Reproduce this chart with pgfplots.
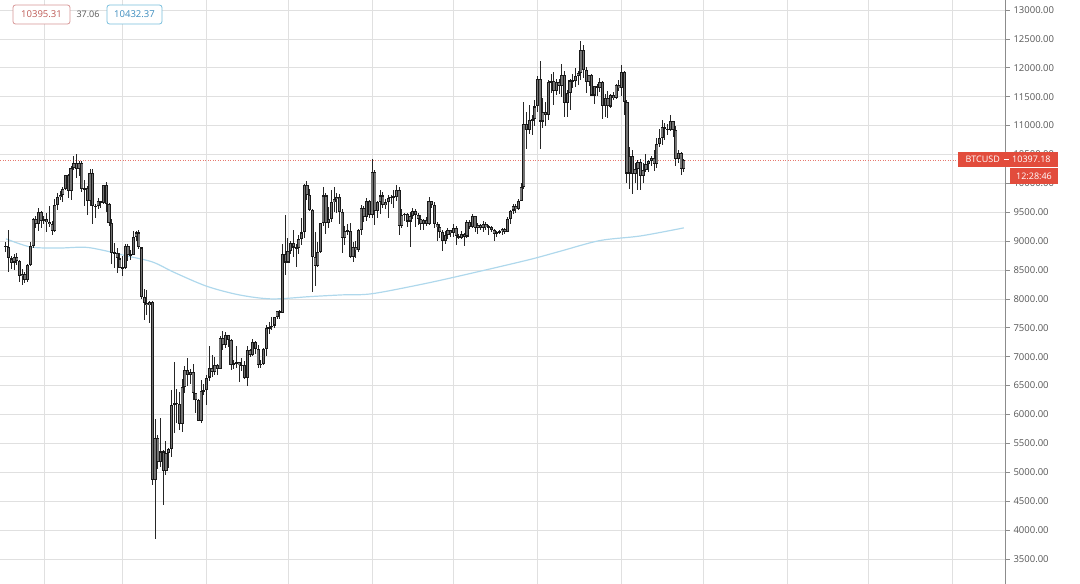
\documentclass[border=0pt]{standalone}
\usepackage{fontspec}
\setmainfont{Open Sans}
\usepackage{pgfplots}
\usepackage{pgfplotstable}
\pgfplotsset{compat=1.18}

\definecolor{gridc}{RGB}{224,224,224}
\definecolor{axisc}{RGB}{140,140,140}
\definecolor{tickc}{RGB}{85,85,85}
\definecolor{tvred}{RGB}{226,76,60}
\definecolor{maline}{RGB}{175,216,236}
\definecolor{pricedot}{RGB}{230,120,110}
\definecolor{boxred}{RGB}{215,150,150}
\definecolor{boxredtxt}{RGB}{190,90,85}
\definecolor{boxblue}{RGB}{120,190,220}
\definecolor{boxbluetxt}{RGB}{60,140,190}

% daily candles, d = days since 1 Feb
\pgfplotstableread{
d o h l c
-14 8920 8990 8810 8900
-13 8900 9190 8470 8700
-12 8700 8740 8520 8630
-11 8630 8780 8500 8730
-10 8730 8790 8580 8660
-9 8660 8670 8300 8390
-8 8390 8510 8240 8440
-7 8440 8460 8280 8330
-6 8330 8610 8300 8590
-5 8590 8980 8570 8910
-4 8910 9400 8880 9390
-3 9390 9430 9230 9290
-2 9290 9570 9180 9500
-1 9500 9520 9220 9350
0 9350 9440 9300 9380
1 9380 9480 9160 9330
2 9330 9600 9240 9290
3 9290 9350 9100 9180
4 9180 9730 9160 9620
5 9620 9840 9540 9760
6 9760 9870 9720 9800
7 9800 9940 9680 9900
8 9900 10150 9880 10150
9 10150 10170 9740 9860
10 9860 10300 9710 10270
11 10270 10470 10230 10350
12 10350 10500 10100 10240
13 10240 10390 10120 10360
14 10360 10380 9850 9900
15 9900 10050 9600 9920
16 9920 9950 9460 9700
17 9700 10250 9600 10180
18 10180 10250 9300 9600
19 9600 9640 9400 9600
20 9600 9750 9560 9690
21 9690 9700 9580 9660
22 9660 9980 9650 9970
23 9970 10020 9500 9650
24 9650 9660 9260 9310
25 9310 9380 8600 8790
26 8790 8960 8530 8800
27 8800 8880 8450 8700
28 8700 8800 8550 8540
29 8540 8750 8400 8530
30 8530 8950 8520 8920
31 8920 8950 8650 8760
32 8760 8840 8670 8760
33 8760 9170 8760 9070
34 9070 9170 9010 9150
35 9150 9190 8870 8890
36 8890 8890 8000 8040
37 8040 8180 7630 7930
38 7930 8150 7730 7890
39 7890 7970 7590 7940
40 7940 7970 4780 4860
41 4860 5930 3850 5600
42 5600 5640 5060 5170
43 5170 5940 5100 5360
44 5360 5380 4440 5020
45 5020 5550 4960 5330
46 5330 5420 5070 5410
47 5410 6420 5270 6170
48 6170 6900 5680 6200
49 6200 6450 5860 6190
50 6190 6390 5730 5830
51 5830 6620 5690 6480
52 6480 6840 6380 6770
53 6770 6970 6490 6690
54 6690 6790 6530 6740
55 6740 6870 6250 6370
56 6370 6370 6030 6250
57 6250 6270 5880 5890
58 5890 6600 5860 6400
59 6400 6520 6340 6420
60 6420 6680 6170 6640
61 6640 7180 6580 6800
62 6800 7030 6650 6740
63 6740 6990 6680 6860
64 6860 6880 6690 6780
65 6780 7360 6780 7330
66 7330 7450 7110 7200
67 7200 7420 7150 7370
68 7370 7380 7160 7290
69 7290 7300 6770 6860
70 6860 6950 6780 6890
71 6890 7180 6810 6910
72 6910 6910 6570 6850
73 6850 6980 6760 6850
74 6850 6930 6620 6630
75 6630 7190 6500 7110
76 7110 7140 7000 7030
77 7030 7300 7020 7260
78 7260 7270 7050 7130
79 7130 7210 6800 6860
80 6860 6940 6800 6880
81 6880 7150 6860 7130
82 7130 7550 7020 7490
83 7490 7600 7400 7510
84 7510 7690 7460 7540
85 7540 7690 7490 7690
86 7690 7790 7650 7790
87 7790 7800 7660 7760
88 7760 8950 7750 8780
89 8780 9460 8420 8630
90 8630 9050 8630 8830
91 8830 9000 8770 8970
92 8970 9190 8720 8890
93 8890 8950 8560 8880
94 8880 9110 8780 9030
95 9030 9400 8940 9150
96 9150 9990 9050 9980
97 9980 10040 9720 9800
98 9800 9900 9520 9540
99 9540 9560 8120 8730
100 8730 9150 8220 8570
101 8570 8980 8560 8810
102 8810 9320 8800 9310
103 9310 9940 9260 9790
104 9790 9830 9130 9320
105 9320 9590 9230 9380
106 9380 9880 9330 9670
107 9670 9940 9500 9730
108 9730 9830 9490 9770
109 9770 9820 9300 9510
110 9510 9560 8800 9060
111 9060 9270 8940 9170
112 9170 9300 9100 9180
113 9180 9310 8700 8720
114 8720 8980 8640 8900
115 8900 9010 8700 8840
116 8840 9210 8820 9200
117 9200 9620 9110 9570
118 9570 9610 9330 9420
119 9420 9740 9350 9700
120 9700 9720 9400 9450
121 9450 10430 9400 10200
122 10200 10230 9280 9520
123 9520 9690 9400 9670
124 9670 9880 9470 9790
125 9790 9850 9580 9620
126 9620 9730 9550 9670
127 9670 9800 9400 9750
128 9750 9800 9640 9770
129 9770 9880 9570 9770
130 9770 9970 9700 9880
131 9880 9940 9100 9270
132 9270 9550 9230 9460
133 9460 9490 9340 9470
134 9470 9480 9240 9340
135 9340 9500 8900 9430
136 9430 9580 9380 9520
137 9520 9560 9250 9460
138 9460 9480 9280 9380
139 9380 9450 9200 9290
140 9290 9390 9200 9360
141 9360 9420 9270 9290
142 9290 9770 9280 9690
143 9690 9700 9570 9630
144 9630 9670 9220 9290
145 9290 9330 9010 9250
146 9250 9300 9050 9160
147 9160 9190 8830 9000
148 9000 9180 8950 9110
149 9110 9230 9030 9190
150 9190 9200 9080 9140
151 9140 9300 9080 9230
152 9230 9270 8940 9090
153 9090 9130 9040 9060
154 9060 9180 9040 9130
155 9130 9140 8920 9080
156 9080 9360 9060 9340
157 9340 9360 9210 9250
158 9250 9470 9230 9430
159 9430 9440 9160 9230
160 9230 9320 9120 9280
161 9280 9300 9190 9230
162 9230 9340 9150 9300
163 9300 9340 9200 9240
164 9240 9280 9110 9250
165 9250 9270 9160 9190
166 9190 9210 9000 9130
167 9130 9180 9080 9150
168 9150 9190 9120 9170
169 9170 9230 9110 9210
170 9210 9220 9120 9160
171 9160 9420 9150 9390
172 9390 9540 9290 9530
173 9530 9640 9470 9610
174 9610 9640 9490 9550
175 9550 9730 9540 9700
176 9700 10000 9690 9930
177 9930 11400 9900 11030
178 11030 11240 10600 10930
179 10930 11350 10850 11100
180 11100 11180 10830 11110
181 11110 11450 10990 11330
182 11330 11860 11230 11800
183 11800 12120 10600 11070
184 11070 11480 10950 11230
185 11230 11410 11000 11190
186 11190 11790 11100 11750
187 11750 11900 11560 11770
188 11770 11920 11360 11600
189 11600 11810 11530 11760
190 11760 11800 11540 11680
191 11680 12070 11500 11880
192 11880 11950 11150 11390
193 11390 11610 11150 11570
194 11570 11800 11270 11780
195 11780 11900 11650 11770
196 11770 11990 11670 11860
197 11860 11940 11700 11910
198 11910 12470 11780 12300
199 12300 12400 11820 11960
200 11960 12020 11560 11750
201 11750 11880 11680 11870
202 11870 11890 11520 11520
203 11520 11690 11380 11680
204 11680 11720 11520 11650
205 11650 11820 11580 11760
206 11760 11770 11120 11340
207 11340 11540 11150 11470
208 11470 11590 11130 11330
209 11330 11550 11300 11530
210 11530 11580 11440 11470
211 11470 11720 11460 11700
212 11700 11780 11600 11650
213 11650 12050 11520 11920
214 11920 11940 11180 11400
215 11400 11450 10000 10170
216 10170 10630 9900 10470
217 10470 10570 9810 10160
218 10160 10350 10000 10250
219 10250 10400 9880 10370
220 10370 10420 9880 10120
221 10120 10350 10000 10230
222 10230 10500 10200 10340
223 10340 10400 10200 10390
224 10390 10480 10300 10440
225 10440 10580 10220 10330
226 10330 10790 10260 10680
227 10680 10940 10630 10790
228 10790 11100 10670 10970
229 10970 11040 10750 10940
230 10940 11030 10830 10930
231 10930 11180 10900 11080
232 11080 11080 10800 10920
233 10920 10990 10300 10420
234 10420 10580 10350 10530
235 10530 10540 10140 10240
236 10240 10420 10200 10397
}\candles

\begin{document}
\begin{tikzpicture}
\path[use as bounding box] (0,0) rectangle (1080pt,584pt);
\begin{axis}[
  at={(0pt,0pt)}, anchor=south west,
  scale only axis, width=1005pt, height=584pt,
  xmin=-16.2, xmax=354.4, ymin=3067, ymax=13173,
  axis y line*=right, axis x line*=bottom,
  x axis line style={draw=none},
  y axis line style={draw=axisc, line width=0.8pt},
  xtick={0,29,60,90,121,151,182,213,243,274,304,335},
  xticklabels={},
  xtick style={draw=none},
  ytick={3500,4000,...,13000},
  scaled y ticks=false,
  ytick style={draw=axisc, line width=0.7pt},
  tick align=outside, major tick length=5pt,
  grid=major, grid style={gridc, line width=0.7pt},
  yticklabel style={font=\fontsize{9.5}{11}\selectfont, text=tickc},
  y tick label style={/pgf/number format/fixed,
    /pgf/number format/fixed zerofill,
    /pgf/number format/precision=2,
    /pgf/number format/1000 sep={},
    /pgf/number format/assume math mode=true},
]
% 200-day moving average
\addplot[smooth, maline, line width=1.2pt] coordinates {
(-14,9040) (-5,8900) (5,8880) (15,8895) (22,8840) (30,8750) (40,8640)
(48,8460) (60,8220) (72,8070) (84,8000) (98,8040) (110,8070) (121,8090)
(141,8270) (160,8470) (179,8680) (190,8820) (205,9010) (220,9090) (236,9230)
};
% last price line
\addplot[pricedot, line width=0.8pt, dash pattern=on 1pt off 1.5pt]
  coordinates {(-16.2,10397.18) (354.4,10397.18)};
% wicks
\addplot[draw=none, mark=none, error bars/.cd, y dir=both, y explicit,
  error mark=none, error bar style={draw=black!85, solid, line width=1pt}]
  table[x=d, y expr={(\thisrow{h}+\thisrow{l})/2},
        y error expr={(\thisrow{h}-\thisrow{l})/2}] {\candles};
% bodies
\addplot[draw=none, mark=none, error bars/.cd, y dir=both, y explicit,
  error mark=none, error bar style={draw=black!90, solid, line width=3.1pt}]
  table[x=d, y expr={(\thisrow{o}+\thisrow{c})/2},
        y error expr={max(abs(\thisrow{c}-\thisrow{o})/2,12)}] {\candles};
\addplot[draw=none, mark=none, error bars/.cd, y dir=both, y explicit,
  error mark=none, error bar style={draw=black!55, solid, line width=1.5pt}]
  table[x=d, y expr={(\thisrow{o}+\thisrow{c})/2},
        y error expr={max(abs(\thisrow{c}-\thisrow{o})/2-18,0)}] {\candles};
\end{axis}

% price label on the scale
\fill[tvred] (958pt,417pt) rectangle (1058pt,432pt);
\node[anchor=east, text=white, inner sep=0pt, font=\fontsize{9}{10}\selectfont]
  at (1000pt,424.5pt) {BTCUSD};
\draw[white, line width=0.7pt] (1004pt,424.5pt) -- (1009pt,424.5pt);
\node[anchor=west, text=white, inner sep=0pt, font=\fontsize{9}{10}\selectfont]
  at (1012pt,424.5pt) {10397.18};
\fill[tvred] (1010pt,400pt) rectangle (1058pt,416pt);
\node[text=white, inner sep=0pt, font=\fontsize{9}{10}\selectfont]
  at (1034pt,408pt) {12:28:46};

% header values
\node[draw=boxred, rounded corners=2.5pt, line width=0.8pt, fill=white,
  minimum width=57pt, minimum height=19pt, inner sep=0pt, text=boxredtxt,
  font=\fontsize{9.5}{11}\selectfont] at (41.5pt,569.5pt) {10395.31};
\node[text=tickc, inner sep=0pt, font=\fontsize{9}{11}\selectfont]
  at (88pt,569.5pt) {37.06};
\node[draw=boxblue, rounded corners=2.5pt, line width=0.8pt, fill=white,
  minimum width=55pt, minimum height=19pt, inner sep=0pt, text=boxbluetxt,
  font=\fontsize{9.5}{11}\selectfont] at (134.5pt,569.5pt) {10432.37};
\end{tikzpicture}
\end{document}
